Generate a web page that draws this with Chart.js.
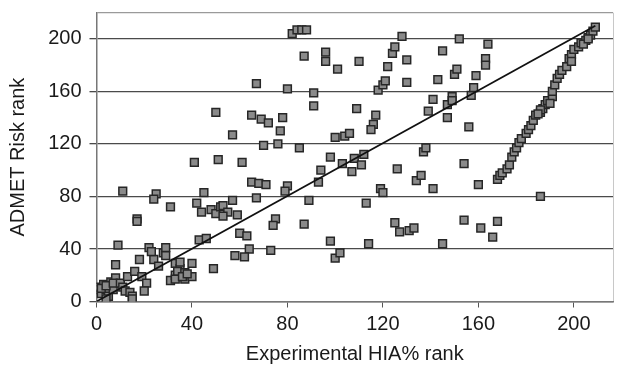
<!DOCTYPE html>
<html>
<head>
<meta charset="utf-8">
<script src="https://cdn.jsdelivr.net/npm/chart.js@4.4.1/dist/chart.umd.min.js"></script>
<style>
  html, body { margin: 0; padding: 0; background: #fff; }
  #wrap { width: 620px; height: 366px; position: relative; }
</style>
</head>
<body>
<div id="wrap"><canvas id="c" width="620" height="366"></canvas></div>
<script>
// Experimental HIA% rank (x) and ADMET Risk rank (y) per compound
const hiaRank = [
  1,1,2,3,4,5,6,7,8,2,4,4,7,10,11,12,14,15,15,13,16,19,21,20,8,9,18,24,22,23,26,28,29,29,31,33,33,35,34,37,33,37,36,40,40,38,35,
  43,46,49,41,51,50,11,25,24,31,17,17,45,42,44,48,50,52,53,55,57,53,59,57,61,65,68,71,67,60,63,64,62,58,73,75,74,80,79,89,87,67,65,69,72,78,77,70,76,85,82,84,86,88,87,80,91,91,
  93,94,98,103,107,108,111,112,96,96,101,110,98,100,102,114,113,119,120,100,104,106,109,117,116,115,118,120,121,122,124,125,128,130,130,125,127,131,133,126,134,136,137,138,141,
  139,141,143,145,147,147,149,149,150,151,152,156,157,158,159,163,163,164,154,160,145,154,161,166,168,186,
  168,169,170,172,173,174,175,176,177,178,180,181,182,183,184,186,187,188,189,191,191,192,193,194,195,197,198,199,200,202,203,205,206,207,208,209,204,206,199,190,186,185
];
const admetRank = [
  9,11,6,13,9,4,15,9,18,10,2,12,14,14,11,8,7,4,2,19,23,19,14,8,28,43,32,32,41,38,27,37,41,35,16,20,29,25,23,22,17,17,19,19,29,21,30,
  47,48,25,106,108,144,84,82,78,72,63,61,83,75,68,70,67,72,73,68,77,65,66,127,106,91,90,89,79,52,50,40,34,35,39,63,58,88,84,77,59,166,142,139,136,140,130,119,120,117,204,207,207,207,187,162,159,149,
  91,100,110,105,99,109,104,112,190,183,177,183,46,33,37,44,75,86,83,125,126,128,147,142,135,131,161,165,168,179,189,194,202,184,167,60,53,54,56,101,92,96,114,117,86,
  145,154,169,191,150,140,156,153,173,177,200,133,157,163,172,185,180,196,105,89,44,62,56,49,61,80,
  93,96,98,101,104,110,114,117,121,124,128,131,134,138,142,144,147,150,153,156,160,165,170,173,176,179,185,188,192,194,197,199,201,203,206,209,196,200,183,151,146,143
];
// Fitted trend line end points
const fitX = [0, 209];
const fitY = [0, 210];
// Axis ticks
const xTicks = [0, 40, 80, 120, 160, 200];
const yTicks = [0, 40, 80, 120, 160, 200];

const pts = hiaRank.map((x, i) => ({ x: x, y: admetRank[i] }));
const fit = fitX.map((x, i) => ({ x: x, y: fitY[i] }));

Chart.defaults.font.family = '"Liberation Sans", Arial, Helvetica, sans-serif';
Chart.defaults.font.size = 20;
Chart.defaults.color = '#1a1a1a';

new Chart(document.getElementById('c'), {
  type: 'scatter',
  data: {
    datasets: [
      {
        data: fit,
        showLine: true,
        borderColor: '#111',
        borderWidth: 1.8,
        pointRadius: 0,
        fill: false,
        order: 0
      },
      {
        data: pts,
        pointStyle: 'rect',
        pointRadius: 5.5,
        backgroundColor: '#8a8a8a',
        borderColor: '#262626',
        borderWidth: 1.5,
        order: 1
      }
    ]
  },
  options: {
    responsive: false,
    animation: false,
    events: [],
    layout: { padding: { left: 0, right: 5, top: 12.7, bottom: 0 } },
    plugins: { legend: { display: false }, tooltip: { enabled: false } },
    scales: {
      x: {
        type: 'linear',
        min: 0,
        max: 216.4,
        afterFit: (s) => { s.height = 64.5; s.paddingLeft = 0; s.paddingRight = 0; },
        afterBuildTicks: (s) => {
          s.ticks = xTicks.map(v => ({ value: v })).concat([{ value: 216.4 }]);
        },
        ticks: {
          padding: 5,
          color: '#1a1a1a',
          maxRotation: 0,
          callback: (v) => xTicks.includes(v) ? String(v) : ''
        },
        grid: {
          drawOnChartArea: true,
          color: (ctx) => (ctx.tick && ctx.tick.value === 216.4) ? '#c8c8c8' : 'rgba(0,0,0,0)',
          tickColor: (ctx) => (ctx.tick && xTicks.includes(ctx.tick.value)) ? '#555' : 'rgba(0,0,0,0)',
          tickLength: 6,
          lineWidth: 1
        },
        border: { display: true, color: '#777', width: 1.5 },
        title: {
          display: true,
          text: 'Experimental HIA% rank',
          color: '#1a1a1a',
          font: { size: 20 },
          padding: { top: 8, bottom: 0 }
        }
      },
      y: {
        type: 'linear',
        min: 0,
        max: 220,
        afterFit: (s) => { s.width = 96.5; s.paddingTop = 0; s.paddingBottom = 0; },
        afterBuildTicks: (s) => {
          s.ticks = yTicks.map(v => ({ value: v })).concat([{ value: 220 }]);
        },
        ticks: {
          padding: 8,
          color: '#1a1a1a',
          callback: (v) => yTicks.includes(v) ? String(v) : ''
        },
        grid: {
          color: (ctx) => (ctx.tick && ctx.tick.value === 220) ? '#9a9a9a' : '#4a4a4a',
          tickColor: (ctx) => (ctx.tick && yTicks.includes(ctx.tick.value)) ? '#4a4a4a' : 'rgba(0,0,0,0)',
          tickLength: 7,
          lineWidth: 1.3
        },
        border: { display: true, color: '#777', width: 1.5 },
        title: {
          display: true,
          text: 'ADMET Risk rank',
          color: '#1a1a1a',
          font: { size: 20 },
          padding: { top: 6, bottom: 0 }
        }
      }
    }
  }
});
</script>
</body>
</html>
